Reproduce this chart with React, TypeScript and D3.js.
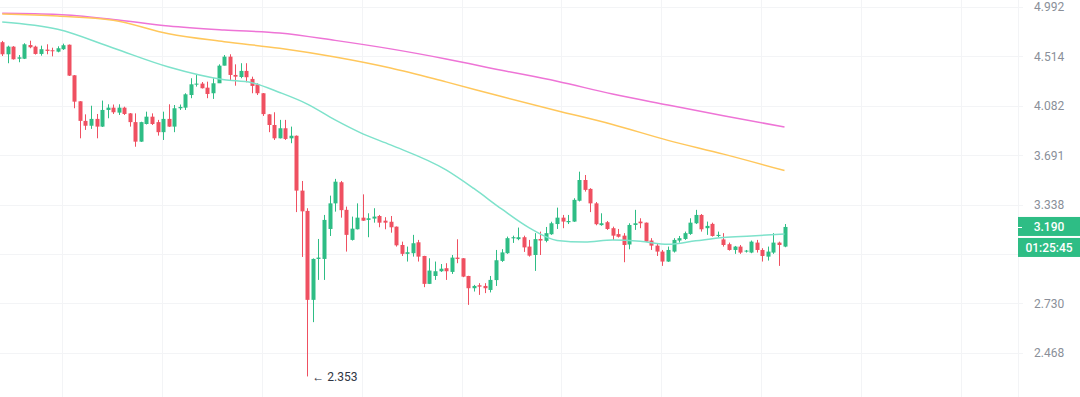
import React from 'react';
import * as d3 from 'd3';

// candle values (price)
const opens = [4.647,4.534,4.605,4.493,4.493,4.620,4.605,4.537,4.577,4.571,
  4.558,4.581,4.623,4.344,4.120,3.959,3.920,3.975,3.913,4.048,
  4.067,4.026,4.067,4.020,3.949,3.795,3.934,3.993,3.949,3.869,
  3.975,3.913,4.062,4.067,4.173,4.262,4.271,4.236,4.188,4.274,
  4.430,4.512,4.347,4.329,4.383,4.312,4.265,4.188,4.012,3.926,
  3.821,3.900,3.821,3.841,3.435,3.296,2.750,2.989,2.989,3.177,
  3.347,3.494,3.303,3.107,3.175,3.251,3.236,3.245,3.262,3.231,
  3.224,3.192,3.075,3.020,3.024,3.092,3.007,2.841,2.887,2.915,
  2.933,2.911,2.997,2.993,2.887,2.816,2.833,2.829,2.806,2.863,
  2.977,3.024,3.117,3.112,3.124,3.065,3.013,3.113,3.101,3.143,
  3.209,3.251,3.221,3.225,3.365,3.510,3.447,3.347,3.202,3.221,
  3.182,3.144,3.134,3.078,3.203,3.225,3.218,3.103,3.071,3.034,
  2.973,3.034,3.103,3.113,3.145,3.214,3.269,3.182,3.210,3.132,
  3.110,3.080,3.044,3.065,3.034,3.028,3.090,3.044,3.003,3.028,
  3.090,3.065];
const highs = [4.659,4.614,4.610,4.527,4.637,4.661,4.614,4.614,4.627,4.595,
  4.608,4.633,4.625,4.346,4.121,4.012,4.083,4.015,4.126,4.095,
  4.093,4.095,4.075,4.023,4.020,3.952,4.034,4.020,3.967,4.034,
  4.095,4.089,4.093,4.188,4.318,4.356,4.285,4.288,4.318,4.442,
  4.527,4.534,4.442,4.452,4.452,4.332,4.274,4.190,4.015,4.029,
  3.967,3.967,3.913,3.843,3.503,3.314,2.992,3.113,3.269,3.400,
  3.518,3.503,3.325,3.258,3.347,3.409,3.280,3.314,3.269,3.254,
  3.262,3.193,3.096,3.065,3.139,3.107,3.008,2.993,2.973,2.958,
  2.963,3.013,3.111,2.994,2.888,2.835,2.845,2.845,2.887,3.044,
  3.049,3.128,3.134,3.186,3.134,3.107,3.150,3.160,3.190,3.224,
  3.318,3.269,3.269,3.382,3.570,3.546,3.452,3.356,3.280,3.229,
  3.192,3.177,3.150,3.214,3.303,3.247,3.219,3.118,3.086,3.044,
  3.065,3.118,3.132,3.160,3.247,3.303,3.275,3.225,3.218,3.160,
  3.150,3.090,3.069,3.075,3.044,3.103,3.107,3.055,3.065,3.150,
  3.096,3.209];
const lows = [4.518,4.452,4.485,4.461,4.490,4.590,4.531,4.521,4.534,4.515,
  4.552,4.574,4.338,4.062,3.821,3.887,3.895,3.821,3.910,3.980,
  4.015,4.007,4.007,3.913,3.756,3.793,3.930,3.926,3.842,3.808,
  3.911,3.869,4.048,4.048,4.146,4.245,4.229,4.146,4.140,4.276,
  4.432,4.294,4.253,4.318,4.283,4.188,4.173,3.999,3.869,3.808,
  3.820,3.808,3.783,3.288,3.001,2.353,2.628,2.864,2.864,3.132,
  3.291,3.251,3.034,3.103,3.174,3.230,3.124,3.218,3.188,3.175,
  3.153,3.065,3.007,2.973,3.003,2.973,2.822,2.840,2.864,2.911,
  2.864,2.899,2.963,2.880,2.722,2.797,2.778,2.788,2.792,2.829,
  2.971,3.020,3.088,3.105,3.032,3.003,2.917,3.013,3.092,3.139,
  3.177,3.182,3.209,3.223,3.360,3.428,3.288,3.201,3.198,3.171,
  3.107,3.122,2.969,3.048,3.171,3.182,3.094,3.044,3.007,2.947,
  2.971,3.028,3.090,3.107,3.139,3.209,3.160,3.139,3.128,3.124,
  3.065,3.040,3.020,3.020,3.028,3.024,3.028,2.973,2.979,3.020,
  2.947,3.061];
const closes = [4.534,4.605,4.488,4.506,4.627,4.599,4.537,4.581,4.565,4.562,
  4.590,4.618,4.341,4.117,3.959,3.920,3.975,3.913,4.048,4.067,
  4.029,4.067,4.015,3.949,3.795,3.949,3.993,3.934,3.869,3.975,
  3.913,4.062,4.073,4.179,4.265,4.271,4.231,4.182,4.274,4.430,
  4.512,4.347,4.332,4.383,4.327,4.251,4.188,4.014,3.926,3.821,
  3.900,3.816,3.841,3.435,3.293,2.750,2.989,2.997,3.236,3.347,
  3.498,3.301,3.139,3.179,3.251,3.231,3.247,3.258,3.218,3.218,
  3.188,3.073,3.020,3.030,3.086,3.003,2.841,2.919,2.915,2.930,
  2.915,2.997,2.989,2.883,2.816,2.829,2.825,2.816,2.864,2.981,
  3.029,3.118,3.124,3.124,3.060,3.009,3.112,3.103,3.150,3.214,
  3.251,3.225,3.229,3.371,3.510,3.440,3.347,3.208,3.214,3.177,
  3.134,3.127,3.075,3.203,3.214,3.214,3.096,3.071,3.034,2.973,
  3.044,3.107,3.118,3.150,3.218,3.269,3.175,3.197,3.132,3.139,
  3.075,3.044,3.065,3.028,3.040,3.096,3.044,3.007,3.034,3.090,
  3.075,3.190];

// moving averages, read at some candle indexes
const tealIdx = [0,10,20,30,40,45,50,55,60,65,70,80,85,90,95,100,105,110,115,120,125,130,135,141];
const tealVals = [4.842,4.770,4.592,4.418,4.305,4.279,4.195,4.097,3.967,3.856,3.770,3.583,3.450,3.309,3.184,3.104,3.094,3.107,3.099,3.079,3.101,3.123,3.132,3.145];
const slowIdx = [0,10,20,30,40,50,60,70,80,90,100,110,120,130,141];
const orangeVals = [4.922,4.901,4.860,4.728,4.652,4.590,4.509,4.409,4.286,4.160,4.042,3.930,3.805,3.700,3.578];
const pinkVals = [4.928,4.916,4.867,4.802,4.763,4.735,4.664,4.584,4.491,4.389,4.292,4.181,4.089,4.000,3.910];

const priceTicks = [4.992, 4.514, 4.082, 3.691, 3.338, 3.018, 2.730, 2.468];
const timeGrid = [10.8, 28.8, 46.8, 64.8, 82.8, 100.8, 118.8, 136.8, 154.8, 172.8];
const lastPrice = 3.190;
const countdown = '01:25:45';
const lowLabel = '2.353';

const width = 1080;
const height = 397;
const axisX = 1018;
const green = '#2ebd85';
const red = '#ef5061';

const x = d3.scaleLinear().domain([0, 141]).range([2.2, 784.5]);
const y = d3.scaleLog().domain([4.992, 2.468]).range([7, 353]);

const maLine = d3.line<[number, number]>()
  .curve(d3.curveMonotoneX)
  .x(d => x(d[0]))
  .y(d => y(d[1]));

export default function App() {
  const lowIdx = lows.indexOf(d3.min(lows) as number);
  const yl = y(lastPrice);
  // labels hidden behind the price / countdown badges
  const visibleTicks = priceTicks.filter(t => y(t) < yl - 17 || y(t) > yl + 37);
  return (
    <svg width={width} height={height} style={{ position: 'absolute', left: 0, top: 0, background: '#fff' }}
      fontFamily="Roboto, sans-serif">
      {/* grid */}
      {priceTicks.map(t => (
        <line key={t} x1={0} x2={1023} y1={Math.round(y(t)) + 0.5} y2={Math.round(y(t)) + 0.5} stroke="#f3f4f6" />
      ))}
      {timeGrid.map(t => (
        <line key={t} x1={Math.round(x(t)) + 0.5} x2={Math.round(x(t)) + 0.5} y1={0} y2={height} stroke="#f3f4f6" />
      ))}
      <line x1={axisX + 0.5} x2={axisX + 0.5} y1={0} y2={height} stroke="#f3f4f6" />

      {/* candles */}
      {closes.map((c, i) => {
        const o = opens[i];
        const col = c >= o ? green : red;
        const cx = Math.round(x(i)) + 0.5;
        const top = y(Math.max(o, c));
        const bh = Math.max(1, y(Math.min(o, c)) - top);
        return (
          <g key={i}>
            <line x1={cx} x2={cx} y1={y(highs[i])} y2={y(lows[i])} stroke={col} strokeWidth={1} />
            <rect x={cx - 2} y={top} width={4} height={bh} fill={col} />
          </g>
        );
      })}

      {/* moving averages */}
      <path d={maLine(pinkVals.map((v, k) => [slowIdx[k], v])) || ''} fill="none" stroke="#ee74d6" strokeWidth={1.5} />
      <path d={maLine(orangeVals.map((v, k) => [slowIdx[k], v])) || ''} fill="none" stroke="#ffc75c" strokeWidth={1.5} />
      <path d={maLine(tealVals.map((v, k) => [tealIdx[k], v])) || ''} fill="none" stroke="#7ee2cb" strokeWidth={1.5} />

      {/* low marker */}
      <text x={x(lowIdx) + 5} y={y(lows[lowIdx])} dy="0.35em" fontSize={12} fill="#2f3542">
        {'\u2190 ' + lowLabel}
      </text>

      {/* price axis */}
      {visibleTicks.map(t => (
        <text key={t} x={1034} y={y(t)} dy="0.35em" fontSize={12} fill="#8a8f99">{t.toFixed(3)}</text>
      ))}

      {/* last price badge */}
      <rect x={axisX} y={yl - 10} width={width - axisX} height={19} fill={green} />
      <rect x={axisX} y={yl + 11} width={width - axisX} height={19} fill={green} />
      <line x1={axisX} x2={axisX + 4} y1={Math.round(yl) + 0.5} y2={Math.round(yl) + 0.5} stroke="#fff" />
      <text x={1049} y={yl} dy="0.35em" fontSize={12} fontWeight={500} fill="#fff" textAnchor="middle">
        {lastPrice.toFixed(3)}
      </text>
      <text x={1049} y={yl + 20.5} dy="0.35em" fontSize={12} fontWeight={500} fill="#fff" textAnchor="middle">
        {countdown}
      </text>
    </svg>
  );
}
